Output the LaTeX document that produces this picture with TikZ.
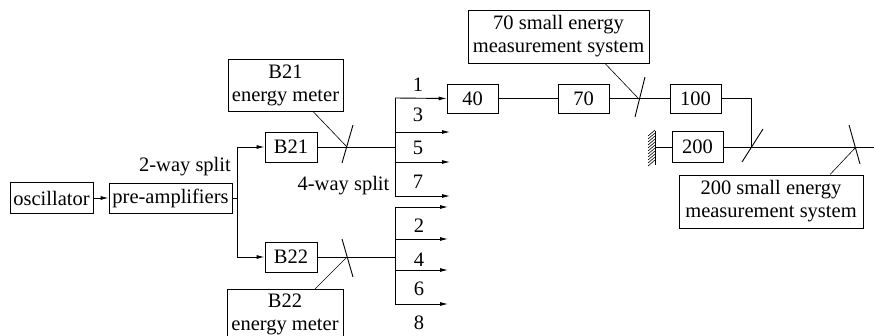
\documentclass[tikz,border=0pt]{standalone}
\usepackage{fontspec}
\setmainfont{LiberationSerif}[Extension=.ttf, UprightFont=*-Regular]
\usetikzlibrary{arrows.meta}
\tikzset{
  unit box/.style={
    draw,
    inner sep=0pt,
    minimum width={#1},
    minimum height={30},
  },
  note box/.style={
    draw,
    align=center,
    inner sep=0pt,
    minimum width={#1},
    minimum height={53},
  },
  feed/.style={
    -{Latex[length=8,width=4]},
  },
  tag text/.style={
    inner sep=0pt,
  }
}

\begin{document}
\begin{tikzpicture}[x=1pt, y=-1pt, line width=0.9pt, font=\rmfamily\fontsize{20.5}{23}\selectfont]
    \useasboundingbox (0,0) rectangle (874,336);

    % front end
    \node [unit box=83, minimum height=31] (osc) at (51.5,198) {oscillator};
    \node [unit box=123] (pre) at (170.5,198) {pre-amplifiers};
    \node [unit box=52] (b21) at (291,147) {B21};
    \node [unit box=52] (b22) at (291,257) {B22};
    \node [tag text] (split2) at (185,167) {2-way split};
    \node [tag text] (split4) at (343.5,186) {4-way split};

    % amplifier chain
    \node [unit box=51, minimum height=29] (a40) at (472.5,98.5) {40};
    \node [unit box=51, minimum height=29] (a70) at (583.5,98.5) {70};
    \node [unit box=51, minimum height=29] (a100) at (695.5,98.5) {100};
    \node [unit box=51, minimum height=31] (a200) at (697.5,147) {200};

    % meters
    \node [note box=115, minimum height=52] (meter1) at (285.5,85) {B21\\energy meter};
    \node [note box=116, minimum height=49, anchor=north] (meter2) at (285,289) {B22\\energy meter};
    \node [note box=181] (sys70) at (558.5,36.5) {70 small energy\\measurement system};
    \node [note box=184] (sys200) at (771,201.5) {200 small energy\\measurement system};

    % mirrors
    \coordinate (m1) at (347,147);
    \coordinate (m2) at (347,257);
    \coordinate (m3) at (638,98);
    \coordinate (m4) at (751,147);
    \coordinate (m5) at (856,147);
    \draw (353,125) -- (342,163);
    \draw (342,239) -- (353,277);
    \draw (645,77) -- (635,117);
    \draw (763,129) -- (742,162);
    \draw (849,125) -- (860,164);

    % splits
    \coordinate (fork) at (237,198);
    \coordinate (ubus) at (395,147);
    \coordinate (lbus) at (395,257);
    \draw (pre.east) -- (fork);
    \draw [feed] (osc.east) -- (pre.west);
    \draw [feed] (fork) |- (b21.west);
    \draw [feed] (fork) |- (b22.west);
    \draw (b21.east) -- (ubus);
    \draw (b22.east) -- (lbus);
    \draw (395,98) -- (395,196);
    \draw (395,207) -- (395,304);
    \draw [feed] (395,98) -- (a40.west);
    \foreach \y in {132,162,196}
        \draw [feed] (395,\y) -- (450,\y);
    \foreach \y in {207,239,270,304}
        \draw [feed] (395,\y) -- (448,\y);
    \foreach \n/\y in {1/85,3/115,5/148,7/182}
        \node [tag text] (out\n) at (418,\y) {\n};
    \foreach \n/\y in {2/226,4/260,6/289,8/323}
        \node [tag text] (out\n) at (419,\y) {\n};

    % chain links
    \draw (a40.east) -- (a70.west);
    \draw (a70.east) -- (a100.west);
    \draw (a100.east) -| (m4);
    \draw (a200.east) -- (874,147);

    % wall
    \coordinate (wall) at (655,147);
    \draw (655,131) -- (655,165);
    \foreach \y in {136,139,...,166}
        \draw [line width=0.6pt] (648,\y) -- (655,\y-6);
    \draw (wall) -- (a200.west);

    % pointers
    \draw [line width=0.6pt] ([xshift=27.5]meter1.south) -- (m1);
    \draw [line width=0.6pt] ([xshift=30]meter2.north) -- (m2);
    \draw [line width=0.6pt] ([xshift=46.5]sys70.south) -- (m3);
    \draw [line width=0.6pt] ([xshift=59]sys200.north) -- (m5);
\end{tikzpicture}
\end{document}
